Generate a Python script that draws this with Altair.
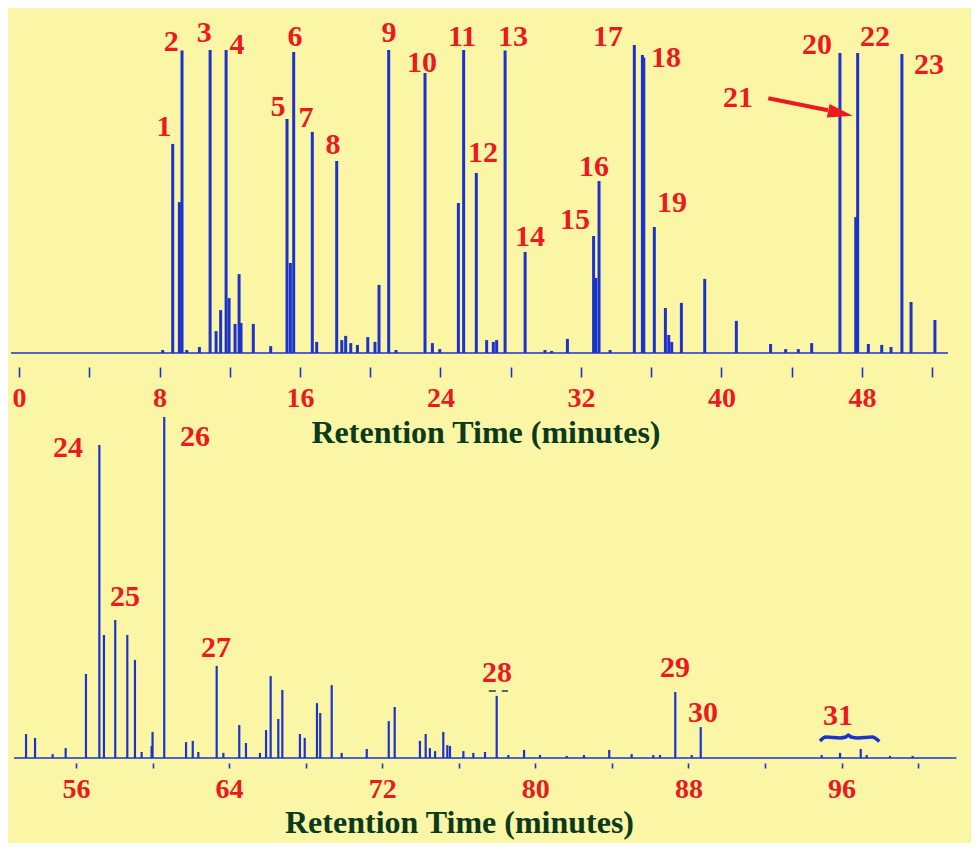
import altair as alt
import pandas as pd

# ---------------- data ----------------
# upper trace: retention time (min) and detector response (arbitrary units)
top_peak_time = [8.18, 8.75, 9.13, 9.28, 9.55, 10.27, 10.88, 11.22, 11.48, 11.79,
                 11.96, 12.30, 12.53, 12.64, 13.34, 14.33, 15.26, 15.45, 15.64, 16.70,
                 16.95, 18.09, 18.38, 18.60, 18.89, 19.27, 19.86, 20.27, 20.50, 21.05,
                 21.47, 23.12, 23.54, 23.96, 25.02, 25.32, 26.04, 26.63, 27.01, 27.20,
                 27.68, 28.82, 29.95, 30.33, 31.23, 32.72, 32.85, 33.03, 33.66, 35.04,
                 35.50, 35.58, 36.18, 36.81, 37.00, 37.17, 37.72, 39.05, 40.85, 42.80,
                 43.66, 44.38, 45.14, 46.75, 47.65, 47.76, 48.37, 49.13, 49.66, 50.28,
                 50.80, 52.16]
top_peak_resp = [1.0, 69.7, 50.3, 100.8, 1.0, 2.0, 101.0, 7.3, 14.3, 101.0,
                 18.3, 9.7, 26.3, 10.0, 9.7, 2.3, 78.0, 30.0, 100.3, 73.7,
                 3.7, 64.0, 4.3, 5.7, 3.3, 2.7, 5.3, 3.7, 22.7, 101.0,
                 1.0, 93.3, 3.3, 1.3, 50.0, 101.0, 60.0, 4.3, 3.7, 4.3,
                 100.8, 33.7, 1.0, 0.7, 4.7, 39.0, 25.0, 57.3, 1.0, 102.7,
                 99.3, 98.5, 42.0, 15.0, 6.0, 3.7, 16.7, 24.7, 10.7, 3.0,
                 1.3, 1.3, 3.3, 100.0, 45.3, 100.0, 3.0, 2.7, 2.0, 99.7,
                 17.0, 11.0]

# lower trace
bottom_peak_time = [53.39, 53.86, 54.78, 55.46, 56.52, 57.22, 57.46, 58.05, 58.68, 59.08,
                    59.43, 59.95, 60.00, 60.61, 61.75, 62.10, 62.39, 63.35, 63.70, 64.53,
                    64.88, 65.61, 65.93, 66.17, 66.57, 66.78, 67.70, 67.95, 68.59, 68.76,
                    69.36, 69.88, 71.19, 72.34, 72.65, 73.97, 74.27, 74.49, 74.76, 75.19,
                    75.40, 75.54, 76.24, 76.76, 77.37, 77.98, 78.59, 79.41, 80.24, 81.64,
                    82.54, 83.86, 85.03, 86.16, 86.51, 87.31, 88.17, 88.64, 94.96, 95.92,
                    97.00, 97.31, 98.53, 99.71]
bottom_peak_resp = [8.0, 6.7, 1.3, 3.3, 28.0, 104.3, 41.0, 46.0, 41.0, 32.7,
                    2.0, 4.0, 8.7, 113.7, 5.3, 5.7, 2.0, 30.7, 1.7, 11.0,
                    5.0, 1.7, 9.3, 27.3, 13.0, 22.7, 8.0, 6.7, 18.3, 15.0,
                    24.3, 1.7, 3.0, 12.3, 17.0, 5.7, 8.0, 3.3, 2.3, 8.7,
                    4.3, 4.0, 2.3, 1.7, 2.0, 20.7, 1.0, 2.7, 1.0, 0.7,
                    1.0, 2.7, 1.3, 1.0, 1.0, 22.0, 1.0, 10.3, 1.0, 1.7,
                    3.0, 1.0, 0.7, 0.7]

# peak numbers and where they are written
top_label_text = ["1", "2", "3", "4", "5", "6", "7", "8", "9", "10", "11", "12",
                  "13", "14", "15", "16", "17", "18", "19", "20", "21", "22", "23"]
top_label_time = [8.26, 8.66, 10.54, 12.41, 14.75, 15.72, 16.34, 17.88, 21.07, 22.95,
                  25.23, 26.42, 28.13, 29.10, 31.66, 32.74, 33.54, 36.85, 37.19, 45.44,
                  40.95, 48.75, 51.82]
top_label_resp = [75.3, 103.7, 106.7, 102.7, 82.0, 105.3, 78.3, 69.3, 106.7, 96.7,
                  105.3, 66.7, 105.3, 38.7, 44.3, 62.0, 105.3, 98.3, 50.0, 102.7,
                  85.0, 105.3, 96.0]

bottom_label_text = ["24", "25", "26", "27", "28", "29", "30", "31"]
bottom_label_time = [55.58, 58.56, 62.22, 63.31, 78.00, 87.30, 88.76, 95.81]
bottom_label_resp = [103.3, 53.7, 107.0, 36.7, 28.3, 30.0, 15.0, 14.0]

# baselines (start / end of each trace)
top_trace_span = [-0.46, 52.90]
bottom_trace_span = [52.76, 102.00]

# axis ticks (minutes)
top_ticks = list(range(0, 53, 4))
bottom_ticks = list(range(56, 101, 4))

# arrow pointing at peak 21
arrow_time = [42.67, 46.07]
arrow_resp = [84.9, 80.9]
arrow_head_time = [46.78]
arrow_head_resp = [79.9]

# brace over group 31
brace_time = [94.87, 95.18, 95.92, 96.23, 96.35, 96.49, 96.86, 97.60, 97.97]
brace_resp = [5.7, 7.0, 6.7, 7.0, 7.7, 7.0, 6.7, 7.0, 5.5]

# dashed mark over peak 28
dash28_time = [77.57, 78.57]
dash28_resp = [22.3]

# ---------------- styling ----------------
BG = "#FBF6A6"
BLUE = "#1B33CC"
RED = "#EC1A1F"
GREEN = "#0C3A1C"
FONT = "Liberation Serif"

W, H = 955, 751
top_x_dom = [-0.46, 53.93]
bot_x_dom = [52.604, 102.50]
top_y_dom = [-136.67, 113.67]
bot_y_dom = [-1.667, 248.67]


def x_axis(values, tick_size, offset, title_x, title_pad):
    return alt.Axis(
        values=values,
        labelExpr="datum.value % 8 == 0 ? datum.label : ''",
        orient="bottom",
        offset=offset,
        domain=False,
        grid=False,
        ticks=True,
        tickSize=tick_size,
        tickWidth=1.6,
        tickColor=BLUE,
        labelFont=FONT,
        labelFontWeight="bold",
        labelFontSize=28,
        labelColor=RED,
        labelPadding=7,
        labelOverlap=False,
        labelFlush=False,
        title="Retention Time (minutes)",
        titleFont=FONT,
        titleFontWeight="bold",
        titleFontSize=32,
        titleColor=GREEN,
        titlePadding=title_pad,
        titleX=title_x,
    )


def panel(peak_t, peak_v, span, lab_txt, lab_t, lab_v, xdom, ydom, axis, sw):
    xs = alt.Scale(domain=xdom, nice=False, zero=False)
    ys = alt.Scale(domain=ydom, nice=False, zero=False)
    peaks = pd.DataFrame({"t": peak_t, "v": peak_v, "base": [0.0] * len(peak_t)})
    base = pd.DataFrame({"t0": [span[0]], "t1": [span[1]], "v": [0.0]})
    labs = pd.DataFrame({"t": lab_t, "v": lab_v, "txt": lab_txt})

    baseline = alt.Chart(base).mark_rule(color=BLUE, strokeWidth=1.6).encode(
        x=alt.X("t0:Q", scale=xs, axis=axis), x2="t1:Q",
        y=alt.Y("v:Q", scale=ys, axis=None))
    rules = alt.Chart(peaks).mark_rule(color=BLUE, strokeWidth=sw).encode(
        x=alt.X("t:Q", scale=xs, axis=axis),
        y=alt.Y("base:Q", scale=ys, axis=None), y2="v:Q")
    text = alt.Chart(labs).mark_text(
        font=FONT, fontWeight="bold", fontSize=30, color=RED,
        align="center", baseline="middle").encode(
        x=alt.X("t:Q", scale=xs, axis=axis),
        y=alt.Y("v:Q", scale=ys, axis=None), text="txt:N")
    return [baseline, rules, text], xs, ys


top_axis = x_axis(top_ticks, 10, -396, 474.5, 5)
bot_axis = x_axis(bottom_ticks, 5, 0, 448, 4)

top_layers, txs, tys = panel(top_peak_time, top_peak_resp, top_trace_span,
                             top_label_text, top_label_time, top_label_resp,
                             top_x_dom, top_y_dom, top_axis, 3.0)
bot_layers, bxs, bys = panel(bottom_peak_time, bottom_peak_resp, bottom_trace_span,
                             bottom_label_text, bottom_label_time, bottom_label_resp,
                             bot_x_dom, bot_y_dom, bot_axis, 2.2)

# arrow to peak 21
arrow_df = pd.DataFrame({"t": arrow_time, "v": arrow_resp})
arrow_line = alt.Chart(arrow_df).mark_line(color=RED, strokeWidth=4).encode(
    x=alt.X("t:Q", scale=txs, axis=top_axis), y=alt.Y("v:Q", scale=tys, axis=None))
head_df = pd.DataFrame({"t": arrow_head_time, "v": arrow_head_resp})
arrow_head = alt.Chart(head_df).mark_point(
    shape="M1,0L-1,-0.55L-1,0.55Z", filled=True, size=625, angle=11.8,
    color=RED, opacity=1, strokeWidth=0).encode(
    x=alt.X("t:Q", scale=txs, axis=top_axis), y=alt.Y("v:Q", scale=tys, axis=None))
top_layers += [arrow_line, arrow_head]

# brace over 31 and dashes over 28
brace_df = pd.DataFrame({"t": brace_time, "v": brace_resp})
brace = alt.Chart(brace_df).mark_line(color=BLUE, strokeWidth=3.5,
                                      interpolate="monotone").encode(
    x=alt.X("t:Q", scale=bxs, axis=bot_axis), y=alt.Y("v:Q", scale=bys, axis=None))
dash_df = pd.DataFrame({"t0": [dash28_time[0]], "t1": [dash28_time[1]], "v": dash28_resp})
dash28 = alt.Chart(dash_df).mark_rule(color="#2B3560", strokeWidth=1.5,
                                      strokeDash=[7, 6]).encode(
    x=alt.X("t0:Q", scale=bxs, axis=bot_axis), x2="t1:Q",
    y=alt.Y("v:Q", scale=bys, axis=None))
bot_layers += [brace, dash28]

top = alt.layer(*top_layers)
bottom = alt.layer(*bot_layers)

chart = (
    alt.layer(top, bottom)
    .resolve_scale(x="independent", y="independent")
    .properties(
        width=W, height=H,
        autosize=alt.AutoSizeParams(type="none"),
        padding={"left": 3, "top": 4, "right": 5, "bottom": 80},
        background=BG,
    )
    .configure_view(stroke=None)
)

chart.save("out.html", embed_options={"renderer": "svg", "actions": False})
